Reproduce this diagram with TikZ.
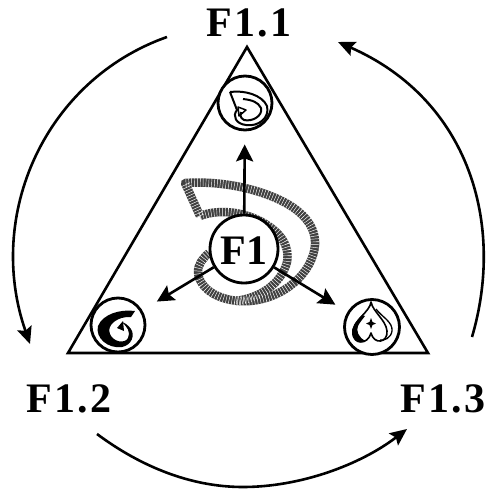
\documentclass[tikz,border=0pt]{standalone}
\usepackage{fontspec}
\setmainfont[LetterSpace=6]{Liberation Serif Bold}
\newfontfamily\plainlab{Liberation Serif Bold}
\usetikzlibrary{arrows.meta}
\tikzset{
 line/.style={draw=black,line width=2.6pt},
 arc/.style={line,-{Stealth[length=17pt,width=15pt,inset=3pt]}},
 spoke/.style={line,-{Stealth[length=17pt,width=17pt,inset=3pt]}},
 ring/.style={circle,draw=black,line width=2.8pt,fill=white,inner sep=0pt},
 lab/.style={anchor=base,inner sep=0pt,font=\fontsize{42}{42}\selectfont},
 bandpath/.style={line join=round},
 emb/.style={draw=black,line width=2pt,line join=round}
}
\newcommand{\bandA}{(200,216) -- (185,183) .. controls (215,181) and (250,186) .. (280,200)
 .. controls (305,212) and (316,228) .. (315,245)
 .. controls (313,272) and (285,298) .. (250,301)
 .. controls (222,303) and (199,290) .. (198,272) .. controls (198,264) and (203,258) .. (209,253)}
\newcommand{\bandB}{(200,216) .. controls (215,210) and (240,210) .. (262,222)
 .. controls (280,232) and (290,245) .. (287,262)
 .. controls (282,282) and (262,298) .. (235,301)}
\begin{document}
\begin{tikzpicture}[x=1pt,y=-1pt]
\useasboundingbox (0,0) rectangle (491,490);
\coordinate (A) at (247,47); \coordinate (B) at (68,353); \coordinate (C) at (428,353);
\draw[line,line join=miter] (A) -- (B) -- (C) -- cycle;
% big band
\draw[bandpath,draw=black!75,line width=8.5pt] \bandA;
\draw[bandpath,draw=black!75,line width=8.5pt] \bandB;
\draw[bandpath,draw=white,line width=9pt,dash pattern=on 0.45pt off 2.4pt] \bandA;
\draw[bandpath,draw=white,line width=9pt,dash pattern=on 0.45pt off 2.4pt] \bandB;
% rings
\node[ring,minimum size=68pt] (F1) at (244,249) {};
\node[ring,minimum size=54pt] (top) at (245,103) {};
\node[ring,minimum size=54pt] (left) at (118,325) {};
\node[ring,minimum size=55pt] (right) at (372,327) {};
\node[lab] (f1txt) at (244,264) {\plainlab F1};
% spokes
\draw[spoke,shorten >=13pt] (F1) -- (top);
\draw[spoke,shorten >=17pt] (F1) -- (left);
\draw[spoke,shorten >=14pt] (F1) -- (right);
% top emblem
\draw[emb] (230,92) .. controls (245,90) and (262,95) .. (267,106)
 .. controls (270,118) and (258,127) .. (246,125)
 .. controls (236,124) and (232,116) .. (237,110) -- (230,92);
\draw[emb] (243,99) .. controls (252,100) and (258,102) .. (261,108)
 .. controls (263,116) and (252,122) .. (244,120) .. controls (240,118) and (240,114) .. (241,112);
\draw[emb,line width=1.5pt] (238,107) -- (246,110) -- (239,116) -- cycle;
% left emblem
\fill (135,311) .. controls (120,309) and (103,314) .. (98,326)
 .. controls (95,338) and (108,349) .. (122,347)
 .. controls (132,345) and (135,335) .. (131,329)
 .. controls (128,325) and (125,323) .. (122,322)
 .. controls (127,327) and (131,332) .. (128,338)
 .. controls (125,344) and (113,342) .. (110,334)
 .. controls (106,325) and (118,316) .. (131,317) -- cycle;
\fill (117,328) -- (123,321) -- (124,331) -- cycle;
% right emblem
\draw[emb,line width=1.6pt] (371,302) .. controls (370,312) and (353,320) .. (353,333)
 .. controls (353,345) and (368,345) .. (371,333)
 .. controls (374,345) and (388,343) .. (387,331)
 .. controls (386,320) and (373,312) .. (371,302) -- cycle;
\fill (362,315) .. controls (355,322) and (351,328) .. (352,334)
 .. controls (353,341) and (362,343) .. (366,341)
 .. controls (358,338) and (356,330) .. (358,326) .. controls (360,322) and (362,320) .. (365,316) -- cycle;
\draw[emb,line width=1.3pt] (376,309) .. controls (382,317) and (393,322) .. (392,331) .. controls (391,338) and (384,341) .. (380,340);
\fill (371,318) -- (372.5,322) -- (376,323.5) -- (372.5,325) -- (371,329) -- (369.5,325) -- (366,323.5) -- (369.5,322) -- cycle;
% labels
\node[lab] (l1) at (249,36) {F1.1};
\node[lab] (l2) at (69,412) {F1.2};
\node[lab] (l3) at (443,412) {F1.3};
% cycle arrows
\coordinate (a1) at (167,37); \coordinate (a1e) at (30,344);
\coordinate (a2) at (97,434); \coordinate (a2m) at (243,487); \coordinate (a2e) at (407,429);
\coordinate (a3) at (472,337); \coordinate (a3e) at (338,42);
\draw[arc] (a1) .. controls (45,80) and (-15,215) .. (a1e);
\draw[arc] (a2) .. controls (140,466) and (190,487) .. (a2m) .. controls (300,487) and (360,465) .. (a2e);
\draw[arc] (a3) .. controls (505,225) and (470,100) .. (a3e);
\end{tikzpicture}
\end{document}
